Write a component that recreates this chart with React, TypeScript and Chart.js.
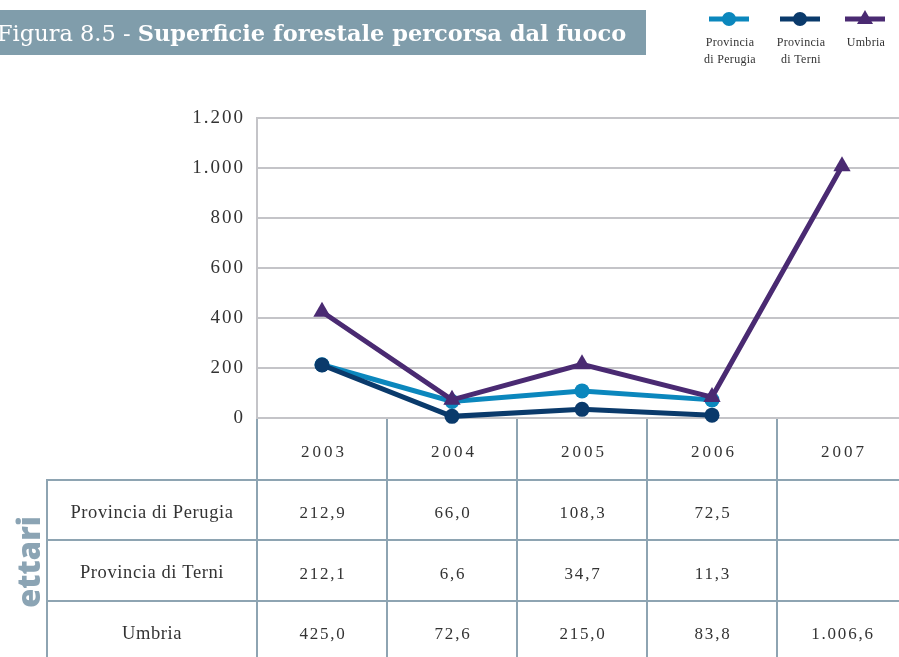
import React, { useEffect, useRef } from "react";
import { Chart, registerables } from "chart.js";

Chart.register(...registerables);

const years = ["2003", "2004", "2005", "2006", "2007"];
const perugia = [212.9, 66.0, 108.3, 72.5, null];
const terni = [212.1, 6.6, 34.7, 11.3, null];
const umbria = [425.0, 72.6, 215.0, 83.8, 1006.6];
const yTicks = [0, 200, 400, 600, 800, 1000, 1200];
const seriesNames = ["Provincia di Perugia", "Provincia di Terni", "Umbria"];
const legendLines = [["Provincia", "di Perugia"], ["Provincia", "di Terni"], ["Umbria"]];
const seriesColors = ["#0b87bd", "#0a3a6b", "#4a2a72"];
const titlePrefix = "Figura 8.5 - ";
const titleMain = "Superficie forestale percorsa dal fuoco";
const unitLabel = "ettari";

const seriesData = [perugia, terni, umbria];

function fmt(v: number | null): string {
  if (v == null) return "";
  const [i, d] = v.toFixed(1).split(".");
  const ii = i.replace(/\B(?=(\d{3})+(?!\d))/g, ".");
  return ii + "," + d;
}

const GRID = "#c4c4c8";
const TABLE = "#8ea4b2";
const TEXT = "#333333";
const SERIF = "'Liberation Serif', 'DejaVu Serif', serif";

const overlay = {
  id: "overlay",
  beforeDraw(chart: any) {
    chart.ctx.letterSpacing = "2px";
  },
  beforeDatasetsDraw(chart: any) {
    const ctx = chart.ctx as CanvasRenderingContext2D;
    const xs = chart.scales.x;
    const area = chart.chartArea;
    const colW = xs.getPixelForValue(1) - xs.getPixelForValue(0);
    const top = area.bottom;
    const rowH = [62, 60, 61, 60];
    const rowTops: number[] = [top];
    for (let i = 0; i < rowH.length; i++) rowTops.push(rowTops[i] + rowH[i]);
    const labelLeft = 47;
    const firstCol = xs.getPixelForValue(0) - colW / 2;
    const bottom = chart.height;

    ctx.save();
    ctx.letterSpacing = "0px";
    ctx.strokeStyle = TABLE;
    ctx.lineWidth = 2;
    ctx.beginPath();
    for (let i = 0; i <= years.length; i++) {
      const x = Math.round(xs.getPixelForValue(0) - colW / 2 + i * colW);
      ctx.moveTo(x, top + 1);
      ctx.lineTo(x, bottom);
    }
    ctx.moveTo(labelLeft, rowTops[1]);
    ctx.lineTo(labelLeft, bottom);
    for (let r = 1; r <= 3; r++) {
      ctx.moveTo(labelLeft - 1, rowTops[r]);
      ctx.lineTo(chart.width, rowTops[r]);
    }
    ctx.stroke();

    ctx.fillStyle = TEXT;
    ctx.textAlign = "center";
    ctx.textBaseline = "middle";
    ctx.font = `17px ${SERIF}`;
    ctx.letterSpacing = "3px";
    years.forEach((y, i) => {
      ctx.fillText(y, xs.getPixelForValue(i) + 2, (rowTops[0] + rowTops[1]) / 2 + 4);
    });
    seriesNames.forEach((name, r) => {
      const cy = (rowTops[r + 1] + rowTops[r + 2]) / 2;
      ctx.font = `18.5px ${SERIF}`;
      ctx.letterSpacing = "0.6px";
      ctx.fillText(name, (labelLeft + firstCol) / 2, cy + 3);
      ctx.font = `17px ${SERIF}`;
      ctx.letterSpacing = "1.8px";
      seriesData[r].forEach((v, i) => {
        ctx.fillText(fmt(v as any), xs.getPixelForValue(i) + 1, cy + 4);
      });
    });

    // title bar
    ctx.letterSpacing = "0px";
    ctx.fillStyle = "#809dab";
    ctx.fillRect(0, 10, 646, 45);
    ctx.fillStyle = "#ffffff";
    ctx.textAlign = "left";
    ctx.textBaseline = "alphabetic";
    ctx.font = `22.5px 'DejaVu Serif', serif`;
    const x0 = -3;
    ctx.fillText(titlePrefix, x0, 41);
    const w0 = ctx.measureText(titlePrefix).width;
    ctx.font = `bold 22.5px 'DejaVu Serif', serif`;
    ctx.fillText(titleMain, x0 + w0, 41);

    // legend
    const lx = [729, 800, 865];
    legendLines.forEach((lines, i) => {
      const cx = lx[i];
      ctx.strokeStyle = seriesColors[i];
      ctx.fillStyle = seriesColors[i];
      ctx.lineWidth = 5;
      ctx.beginPath();
      ctx.moveTo(cx - 20, 19);
      ctx.lineTo(cx + 20, 19);
      ctx.stroke();
      ctx.beginPath();
      if (i < 2) {
        ctx.arc(cx, 19, 7, 0, Math.PI * 2);
      } else {
        ctx.moveTo(cx, 10);
        ctx.lineTo(cx + 8, 24);
        ctx.lineTo(cx - 8, 24);
        ctx.closePath();
      }
      ctx.fill();
      ctx.fillStyle = TEXT;
      ctx.font = `12px ${SERIF}`;
      ctx.textAlign = "center";
      ctx.letterSpacing = "0.3px";
      lines.forEach((t, k) => {
        ctx.fillText(t, cx + 1, 46 + k * 17);
      });
    });

    // unit label
    ctx.save();
    ctx.translate(40, 562);
    ctx.rotate(-Math.PI / 2);
    ctx.fillStyle = "#8ba4b4";
    ctx.font = `800 31px 'Open Sans', sans-serif`;
    ctx.letterSpacing = "0px";
    ctx.textAlign = "center";
    ctx.textBaseline = "alphabetic";
    ctx.fillText(unitLabel, 0, 0);
    ctx.restore();

    ctx.restore();
  },
  afterDraw(chart: any) {
    chart.ctx.letterSpacing = "0px";
  },
};

export default function App() {
  const ref = useRef<HTMLCanvasElement | null>(null);
  useEffect(() => {
    const canvas = ref.current!;
    const mk = (i: number, order: number) => ({
      label: seriesNames[i],
      data: seriesData[i],
      borderColor: seriesColors[i],
      backgroundColor: seriesColors[i],
      pointBackgroundColor: seriesColors[i],
      pointBorderColor: seriesColors[i],
      borderWidth: 5,
      pointRadius: i === 2 ? 10 : 7.5,
      pointHoverRadius: i === 2 ? 10 : 7.5,
      pointStyle: i === 2 ? "triangle" : "circle",
      pointBorderWidth: 0,
      tension: 0,
      spanGaps: false,
      clip: false as any,
      order,
    });
    const chart = new Chart(canvas, {
      type: "line",
      data: {
        labels: years,
        datasets: [mk(2, 0), mk(1, 1), mk(0, 2)],
      },
      options: {
        responsive: false,
        animation: false,
        devicePixelRatio: 1,
        layout: { autoPadding: false, padding: { left: 0, top: 118, right: 3, bottom: 239 } },
        plugins: { legend: { display: false }, tooltip: { enabled: false } },
        scales: {
          x: {
            type: "category",
            offset: true,
            display: false,
          },
          y: {
            min: 0,
            max: 1200,
            afterBuildTicks: (s: any) => {
              s.ticks = yTicks.map((v) => ({ value: v }));
            },
            afterFit: (s: any) => {
              s.width = 257;
            },
            grid: { color: GRID, lineWidth: 2, drawTicks: false },
            border: { display: true, color: GRID, width: 2 },
            ticks: {
              padding: 12,
              color: TEXT,
              font: { family: SERIF, size: 19 },
              callback: (v: any) => Number(v).toLocaleString("de-DE"),
            },
          },
        },
      },
      plugins: [overlay],
    });
    return () => chart.destroy();
  }, []);
  return (
    <div
      style={{
        position: "absolute",
        left: 0,
        top: 0,
        width: 899,
        height: 657,
        overflow: "hidden",
        background: "#ffffff",
      }}
    >
      <canvas ref={ref} width={910} height={657} style={{ display: "block", width: 910, height: 657 }} />
    </div>
  );
}
